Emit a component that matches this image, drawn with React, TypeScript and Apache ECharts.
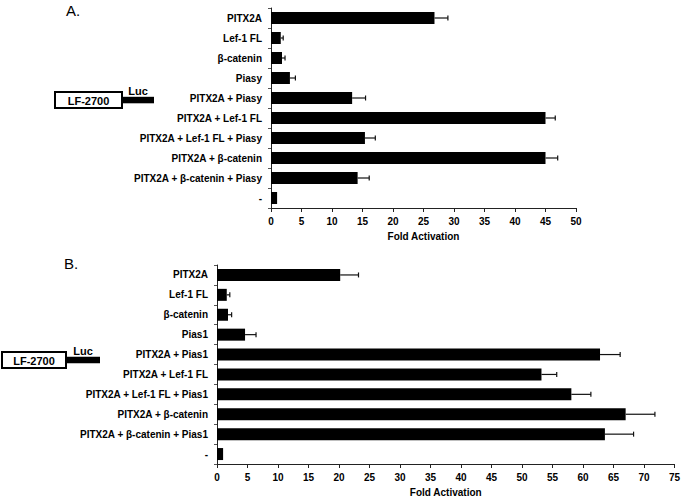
import React, { useEffect, useRef } from "react";
import * as echarts from "echarts";

const categoriesA = [
  "PITX2A",
  "Lef-1 FL",
  "β-catenin",
  "Piasy",
  "PITX2A + Piasy",
  "PITX2A + Lef-1 FL",
  "PITX2A + Lef-1 FL + Piasy",
  "PITX2A + β-catenin",
  "PITX2A + β-catenin + Piasy",
  "-",
];
const valuesA = [26.8, 1.6, 1.8, 3.1, 13.3, 45, 15.4, 45, 14.2, 1.0];
const errorsA = [2.2, 0.4, 0.5, 0.9, 2.2, 1.6, 1.7, 2.0, 1.9, 0];

const categoriesB = [
  "PITX2A",
  "Lef-1 FL",
  "β-catenin",
  "Pias1",
  "PITX2A + Pias1",
  "PITX2A + Lef-1 FL",
  "PITX2A + Lef-1 FL + Pias1",
  "PITX2A + β-catenin",
  "PITX2A + β-catenin + Pias1",
  "-",
];
const valuesB = [20.2, 1.6, 1.8, 4.6, 62.8, 53.2, 58.1, 67, 63.6, 1.0];
const errorsB = [3.0, 0.5, 0.6, 1.8, 3.3, 2.5, 3.2, 4.8, 4.7, 0];

const axisMaxA = 50;
const axisMaxB = 75;
const tickStep = 5;
const xAxisName = "Fold Activation";
const panelLetters = ["A.", "B."];
const constructName = "LF-2700";
const reporterName = "Luc";

const FONT = "'Liberation Sans', Arial, Helvetica, sans-serif";

function errorRender(params: any, api: any) {
  const v = api.value(0);
  const c = api.value(1);
  const e = api.value(2);
  if (!e) return null;
  const p0 = api.coord([v, c]);
  const p1 = api.coord([v + e, c]);
  const h = 5;
  return {
    type: "group",
    children: [
      {
        type: "line",
        shape: { x1: p0[0], y1: p0[1], x2: p1[0], y2: p1[1] },
        style: { stroke: "#111", lineWidth: 1.2 },
      },
      {
        type: "line",
        shape: { x1: p1[0], y1: p1[1] - h / 2, x2: p1[0], y2: p1[1] + h / 2 },
        style: { stroke: "#111", lineWidth: 1.2 },
      },
    ],
  };
}

function construct(x: number, y: number, w: number, h: number, barLen: number) {
  return [
    {
      type: "rect",
      shape: { x, y, width: w, height: h },
      style: { fill: "#fff", stroke: "#000", lineWidth: 2 },
    },
    {
      type: "text",
      x: x + w / 2,
      y: y + h / 2 + 0.5,
      style: {
        text: constructName,
        fill: "#000",
        font: `bold 11px ${FONT}`,
        textAlign: "center",
        textVerticalAlign: "middle",
      },
    },
    {
      type: "rect",
      shape: { x: x + w, y: y + h * 0.3, width: barLen, height: 6.5 },
      style: { fill: "#000" },
    },
    {
      type: "text",
      x: x + w + barLen / 2,
      y: y + h * 0.3 - 0.5,
      style: {
        text: reporterName,
        fill: "#000",
        font: `bold 11px ${FONT}`,
        textAlign: "center",
        textVerticalAlign: "bottom",
      },
    },
  ];
}

export default function App() {
  const ref = useRef<HTMLDivElement>(null);

  useEffect(() => {
    if (!ref.current) return;
    const chart = echarts.init(ref.current, undefined, { renderer: "svg" });

    const xAxisCommon = (gridIndex: number, max: number) => ({
      type: "value",
      gridIndex,
      min: 0,
      max,
      interval: tickStep,
      name: xAxisName,
      nameLocation: "middle",
      nameGap: 23,
      nameTextStyle: { color: "#000", fontFamily: FONT, fontWeight: "bold", fontSize: 10 },
      axisLine: { show: true, lineStyle: { color: "#222", width: 1 } },
      axisTick: { show: true, length: 4, lineStyle: { color: "#222" } },
      axisLabel: { color: "#000", fontFamily: FONT, fontWeight: "bold", fontSize: 10, margin: 8 },
      splitLine: { show: false },
    });

    const yAxisCommon = (gridIndex: number, cats: string[]) => ({
      type: "category",
      gridIndex,
      data: cats,
      inverse: true,
      axisLine: { show: true, onZero: false, lineStyle: { color: "#222", width: 1 } },
      axisTick: { show: true, length: 3, lineStyle: { color: "#555" } },
      axisLabel: { color: "#000", fontFamily: FONT, fontWeight: "bold", fontSize: 10, margin: 9 },
    });

    chart.setOption({
      animation: false,
      backgroundColor: "#fff",
      grid: [
        { left: 271, right: 107, top: 8, height: 200, containLabel: false },
        { left: 217, right: 6, top: 265, height: 201, containLabel: false },
      ],
      xAxis: [xAxisCommon(0, axisMaxA), xAxisCommon(1, axisMaxB)],
      yAxis: [yAxisCommon(0, categoriesA), yAxisCommon(1, categoriesB)],
      series: [
        {
          type: "bar",
          xAxisIndex: 0,
          yAxisIndex: 0,
          data: valuesA,
          barWidth: 12,
          itemStyle: { color: "#000" },
        },
        {
          type: "custom",
          xAxisIndex: 0,
          yAxisIndex: 0,
          renderItem: errorRender,
          encode: { x: 0, y: 1 },
          data: valuesA.map((v, i) => [v, i, errorsA[i]]),
          z: 3,
        },
        {
          type: "bar",
          xAxisIndex: 1,
          yAxisIndex: 1,
          data: valuesB,
          barWidth: 12,
          itemStyle: { color: "#000" },
        },
        {
          type: "custom",
          xAxisIndex: 1,
          yAxisIndex: 1,
          renderItem: errorRender,
          encode: { x: 0, y: 1 },
          data: valuesB.map((v, i) => [v, i, errorsB[i]]),
          z: 3,
        },
      ],
      graphic: [
        {
          type: "text",
          x: 66,
          y: 3,
          style: { text: panelLetters[0], fill: "#000", font: `15px ${FONT}` },
        },
        {
          type: "text",
          x: 64,
          y: 256,
          style: { text: panelLetters[1], fill: "#000", font: `15px ${FONT}` },
        },
        ...construct(55, 92, 67, 16, 32),
        ...construct(2, 352, 64, 16, 34),
      ],
    });

    return () => chart.dispose();
  }, []);

  return (
    <div
      ref={ref}
      style={{ position: "fixed", left: 0, top: 0, width: 683, height: 498, background: "#fff" }}
    />
  );
}
